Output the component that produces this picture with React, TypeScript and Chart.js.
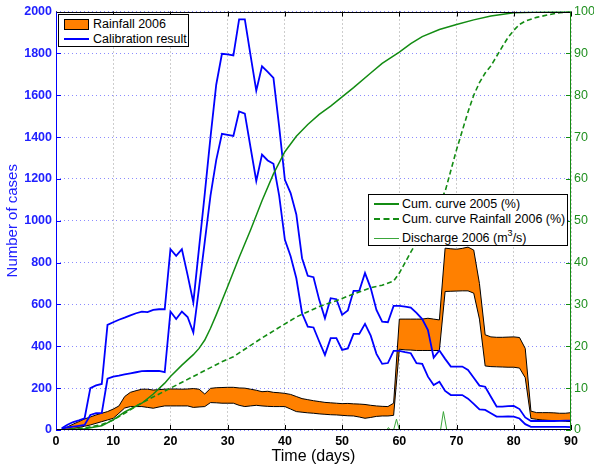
import React, { useEffect, useRef } from "react";
import { Chart, registerables } from "chart.js";
Chart.register(...registerables);

// ---------- data ----------
const DAYS: number[] = Array.from({ length: 90 }, (_, i) => i + 1);

const CALIB_UPPER = [
  8, 25, 38, 46, 56, 200, 213, 220, 502, 515,
  527, 537, 548, 558, 566, 563, 574, 577, 577, 864,
  832, 864, 740, 610, 870, 1130, 1400, 1650, 1798, 1795,
  1790, 1962, 1962, 1790, 1622, 1738, 1712, 1683, 1450, 1196,
  1132, 1030, 821, 737, 730, 622, 534, 630, 625, 550,
  571, 665, 665, 750, 678, 574, 518, 515, 593, 593,
  590, 585, 560, 530, 478, 346, 380, 340, 303, 303,
  303, 287, 250, 212, 207, 159, 112, 112, 114, 115,
  100, 60, 43, 43, 43, 43, 43, 44, 45, 45,
];

const CALIB_LOWER = [
  5, 12, 16, 20, 24, 72, 80, 82, 245, 255,
  260, 266, 271, 276, 281, 282, 283, 282, 276, 566,
  530, 566, 540, 466, 680, 900, 1120, 1290, 1415, 1410,
  1405, 1522, 1512, 1350, 1190, 1316, 1288, 1272, 1120, 909,
  830, 725, 558, 494, 490, 423, 359, 439, 439, 383,
  390, 459, 459, 507, 451, 364, 316, 320, 378, 378,
  372, 367, 319, 316, 255, 215, 231, 187, 167, 167,
  167, 150, 125, 98, 96, 80, 64, 64, 65, 64,
  55, 28, 15, 15, 15, 15, 15, 15, 15, 14,
];

const RAIN_UPPER = [
  5, 15, 28, 40, 53, 62, 72, 80, 88, 100,
  115, 160, 180, 188, 195, 195, 191, 193, 195, 196,
  196, 195, 196, 198, 195, 172, 199, 202, 203, 204,
  204, 201, 200, 195, 190, 183, 185, 180, 178, 175,
  170, 160, 150, 145, 140, 136, 132, 130, 128, 126,
  127, 125, 124, 122, 118, 115, 113, 112, 128, 530,
  530, 530, 530, 530, 534, 530, 526, 869, 866, 864,
  868, 874, 860, 700, 455, 445, 443, 443, 444, 445,
  442, 390, 90, 83, 83, 83, 82, 80, 80, 83,
];

const RAIN_LOWER = [
  0, 3, 7, 12, 18, 24, 32, 40, 48, 56,
  80, 105, 112, 112, 112, 108, 104, 110, 115, 115,
  115, 115, 115, 108, 110, 112, 131, 130, 128, 128,
  128, 118, 112, 115, 118, 115, 113, 112, 112, 112,
  100, 88, 85, 82, 80, 77, 75, 73, 72, 70,
  68, 67, 62, 56, 60, 65, 67, 67, 70, 386,
  383, 382, 380, 380, 380, 380, 380, 662, 663, 664,
  665, 665, 654, 530, 306, 303, 302, 301, 300, 300,
  296, 250, 55, 51, 48, 46, 45, 44, 42, 40,
];

const CUM2005_DAYS = [1, 5, 8, 10, 12, 15, 17, 19, 20, 22, 24, 25, 26, 27, 28, 30, 32, 34, 36, 38, 40, 42, 44, 46, 48, 50, 52, 55, 57, 60, 62, 64, 67, 70, 73, 76, 80, 85, 90];
const CUM2005_PCT = [0, 0.3, 1, 2.4, 4.3, 6.4, 8.6, 11.2, 12.8, 15.5, 18, 19.5, 21.5, 24.3, 27.5, 34.3, 41.2, 47.8, 54.8, 61.2, 66.5, 70.2, 73, 75.4, 77.4, 79.6, 81.8, 85.3, 87.6, 90.3, 92.3, 94, 95.7, 96.9, 98, 98.9, 99.7, 99.9, 100];

const CUMRAIN_DAYS = [1, 5, 8, 10, 12, 15, 20, 25, 29, 31, 36, 42, 46, 49, 52, 55, 57, 59, 60, 61, 62, 63, 64, 65, 66, 67, 68, 69, 70, 71, 72, 73, 74, 75, 76, 77, 78, 79, 80, 81, 82, 84, 86, 88, 90];
const CUMRAIN_PCT = [0, 0.5, 1.3, 2.4, 4, 6.5, 10, 13.5, 16.3, 17.5, 22, 27, 29.5, 30.9, 32.5, 34, 34.6, 35.6, 37.5, 40, 42.5, 44.8, 47.2, 49.6, 52, 54.4, 57, 62, 67, 71.5, 76, 80, 83, 85.3, 87, 89.3, 91.6, 93.8, 95.5, 96.9, 97.7, 98.6, 99.2, 99.7, 100];

const DISCHARGE_DAYS = [1, 57.8, 58.1, 58.4, 59.0, 59.5, 60.0, 67.2, 67.7, 68.3, 90];
const DISCHARGE_VAL = [0, 0, 0.6, 0, 0, 2.6, 0, 0, 4.4, 0, 0];

// ---------- styles ----------
const FONT = "'Liberation Sans', Arial, Helvetica, sans-serif";
const BLUE = "#0000ff";
const BLUE_TXT = "#2020ff";
const GREEN = "#138c13";
const GREEN_TXT = "#1f8f1f";
const ORANGE = "#ff8000";

const pts = (xs: number[], ys: number[]) => xs.map((x, i) => ({ x, y: ys[i] }));

const framePlugin = {
  id: "frame",
  afterDraw(chart: any) {
    const { ctx, chartArea: a, scales } = chart;
    const sx = scales.x, sy = scales.y, sy2 = scales.y2;
    const L = 5;
    ctx.save();
    ctx.lineWidth = 1;
    ctx.strokeStyle = "#000";
    ctx.beginPath();
    for (const t of sx.ticks) {
      const px = Math.round(sx.getPixelForValue(t.value)) + 0.5;
      ctx.moveTo(px, a.bottom);
      ctx.lineTo(px, a.bottom - L);
      ctx.moveTo(px, a.top);
      ctx.lineTo(px, a.top + L);
    }
    ctx.stroke();
    ctx.strokeStyle = BLUE;
    ctx.beginPath();
    for (const t of sy.ticks) {
      const py = Math.round(sy.getPixelForValue(t.value)) + 0.5;
      ctx.moveTo(a.left, py);
      ctx.lineTo(a.left + L, py);
    }
    ctx.stroke();
    ctx.strokeStyle = GREEN;
    ctx.beginPath();
    for (const t of sy2.ticks) {
      const py = Math.round(sy2.getPixelForValue(t.value)) + 0.5;
      ctx.moveTo(a.right, py);
      ctx.lineTo(a.right - L, py);
    }
    ctx.stroke();
    const l = Math.round(a.left) + 0.5, r = Math.round(a.right) - 0.5;
    const t0 = Math.round(a.top) + 0.5, b = Math.round(a.bottom) - 0.5;
    ctx.strokeStyle = "#000";
    ctx.beginPath();
    ctx.moveTo(l, t0); ctx.lineTo(r, t0);
    ctx.moveTo(l, b); ctx.lineTo(r, b);
    ctx.stroke();
    ctx.strokeStyle = BLUE;
    ctx.beginPath();
    ctx.moveTo(l, t0); ctx.lineTo(l, b);
    ctx.stroke();
    ctx.strokeStyle = GREEN;
    ctx.beginPath();
    ctx.moveTo(r, t0); ctx.lineTo(r, b);
    ctx.stroke();
    ctx.restore();
  },
};

export default function App() {
  const ref = useRef<HTMLCanvasElement | null>(null);

  useEffect(() => {
    if (!ref.current) return;
    Chart.defaults.font.family = FONT;
    const line = (extra: any) => ({
      pointRadius: 0,
      tension: 0,
      fill: false,
      ...extra,
    });
    const plain = (v: any) => String(v);
    const chart = new Chart(ref.current, {
      type: "line",
      data: {
        datasets: [
          line({ label: "Cum. curve Rainfall 2006 (%)", data: pts(CUMRAIN_DAYS, CUMRAIN_PCT), borderColor: GREEN, borderWidth: 1.6, borderDash: [5, 3], yAxisID: "y2", order: 0 }),
          line({ label: "Cum. curve 2005 (%)", data: pts(CUM2005_DAYS, CUM2005_PCT), borderColor: GREEN, borderWidth: 1.5, yAxisID: "y2", order: 1 }),
          line({ label: "Discharge 2006 (m3/s)", data: pts(DISCHARGE_DAYS, DISCHARGE_VAL), borderColor: "#3aa63a", borderWidth: 1, yAxisID: "y2", order: 2 }),
          line({ label: "Calibration upper", data: pts(DAYS, CALIB_UPPER), borderColor: BLUE, borderWidth: 1.8, yAxisID: "y", order: 3 }),
          line({ label: "Calibration lower", data: pts(DAYS, CALIB_LOWER), borderColor: BLUE, borderWidth: 1.8, yAxisID: "y", order: 4 }),
          line({ label: "Rainfall lower", data: pts(DAYS, RAIN_LOWER), borderColor: "#000", borderWidth: 1, yAxisID: "y", order: 5 }),
          line({ label: "Rainfall 2006", data: pts(DAYS, RAIN_UPPER), borderColor: "#000", borderWidth: 1, backgroundColor: ORANGE, fill: 5, yAxisID: "y", order: 6 }),
        ],
      },
      options: {
        animation: false,
        responsive: false,
        maintainAspectRatio: false,
        layout: { padding: { top: 11, left: 0, right: 0, bottom: 0 } },
        plugins: {
          legend: { display: false },
          tooltip: { enabled: false },
          filler: { drawTime: "beforeDatasetDraw" },
        },
        scales: {
          x: {
            type: "linear",
            min: 0,
            max: 90,
            afterFit: (s: any) => { s.height = 38; },
            ticks: { stepSize: 10, padding: 4, color: "#000", font: { size: 12.5, weight: "bold" }, maxRotation: 0, callback: plain },
            grid: { color: "rgba(120,120,120,0.75)", drawTicks: false, lineWidth: 1 },
            border: { display: false, dash: [1, 3] },
            title: { display: true, text: "Time (days)", color: "#000", font: { size: 16 }, padding: { top: 0, bottom: 2 } },
          },
          y: {
            position: "left",
            min: 0,
            max: 2000,
            afterFit: (s: any) => { s.width = 56; },
            ticks: { stepSize: 200, padding: 4, color: BLUE_TXT, font: { size: 12.5, weight: "bold" }, callback: plain },
            grid: { color: "rgba(90,90,255,0.7)", drawTicks: false, lineWidth: 1 },
            border: { display: false, dash: [1, 3] },
            title: { display: true, text: "Number of cases", color: BLUE_TXT, font: { size: 15 }, padding: { top: 4, bottom: 0 } },
          },
          y2: {
            position: "right",
            min: 0,
            max: 100,
            afterFit: (s: any) => { s.width = 23; },
            ticks: { stepSize: 10, padding: 3, color: GREEN_TXT, font: { size: 12.5 }, callback: plain },
            grid: { drawOnChartArea: false, drawTicks: false },
            border: { display: false },
          },
        },
      },
      plugins: [framePlugin],
    } as any);
    return () => chart.destroy();
  }, []);

  const txt: React.CSSProperties = { fontFamily: FONT, fontSize: "12.5px", color: "#000", whiteSpace: "nowrap", lineHeight: 1 };
  const row = (top: number): React.CSSProperties => ({ position: "absolute", left: 0, top, height: 14, display: "flex", alignItems: "center" });

  return (
    <div style={{ position: "absolute", left: 0, top: 0, width: 594, height: 468, background: "#fff" }}>
      <canvas ref={ref} width={594} height={468} style={{ width: 594, height: 468, display: "block" }} />
      <div style={{ position: "absolute", left: 58, top: 14, width: 131, height: 33, border: "1px solid #000", background: "#fff", boxSizing: "border-box" }}>
        <div style={row(2)}>
          <div style={{ marginLeft: 5, width: 25, height: 11, background: ORANGE, border: "1px solid #000", boxSizing: "border-box" }} />
          <span style={{ ...txt, marginLeft: 4 }}>Rainfall 2006</span>
        </div>
        <div style={row(17)}>
          <div style={{ marginLeft: 5, width: 25, height: 0, borderTop: `2px solid ${BLUE}` }} />
          <span style={{ ...txt, marginLeft: 4 }}>Calibration result</span>
        </div>
      </div>
      <div style={{ position: "absolute", left: 368, top: 194, width: 200, height: 52, border: "1px solid #000", background: "#fff", boxSizing: "border-box" }}>
        <div style={row(2)}>
          <div style={{ marginLeft: 5, width: 25, height: 0, borderTop: `2px solid ${GREEN}` }} />
          <span style={{ ...txt, marginLeft: 3 }}>Cum. curve 2005 (%)</span>
        </div>
        <div style={row(17)}>
          <div style={{ marginLeft: 5, width: 25, height: 0, borderTop: `2px dashed ${GREEN}` }} />
          <span style={{ ...txt, marginLeft: 3 }}>Cum. curve Rainfall 2006 (%)</span>
        </div>
        <div style={row(36)}>
          <div style={{ marginLeft: 5, width: 25, height: 0, borderTop: `1px solid #3aa63a` }} />
          <span style={{ ...txt, marginLeft: 3 }}>Discharge 2006 (m<sup style={{ fontSize: "9px", verticalAlign: "6px", lineHeight: 0 }}>3</sup>/s)</span>
        </div>
      </div>
    </div>
  );
}
